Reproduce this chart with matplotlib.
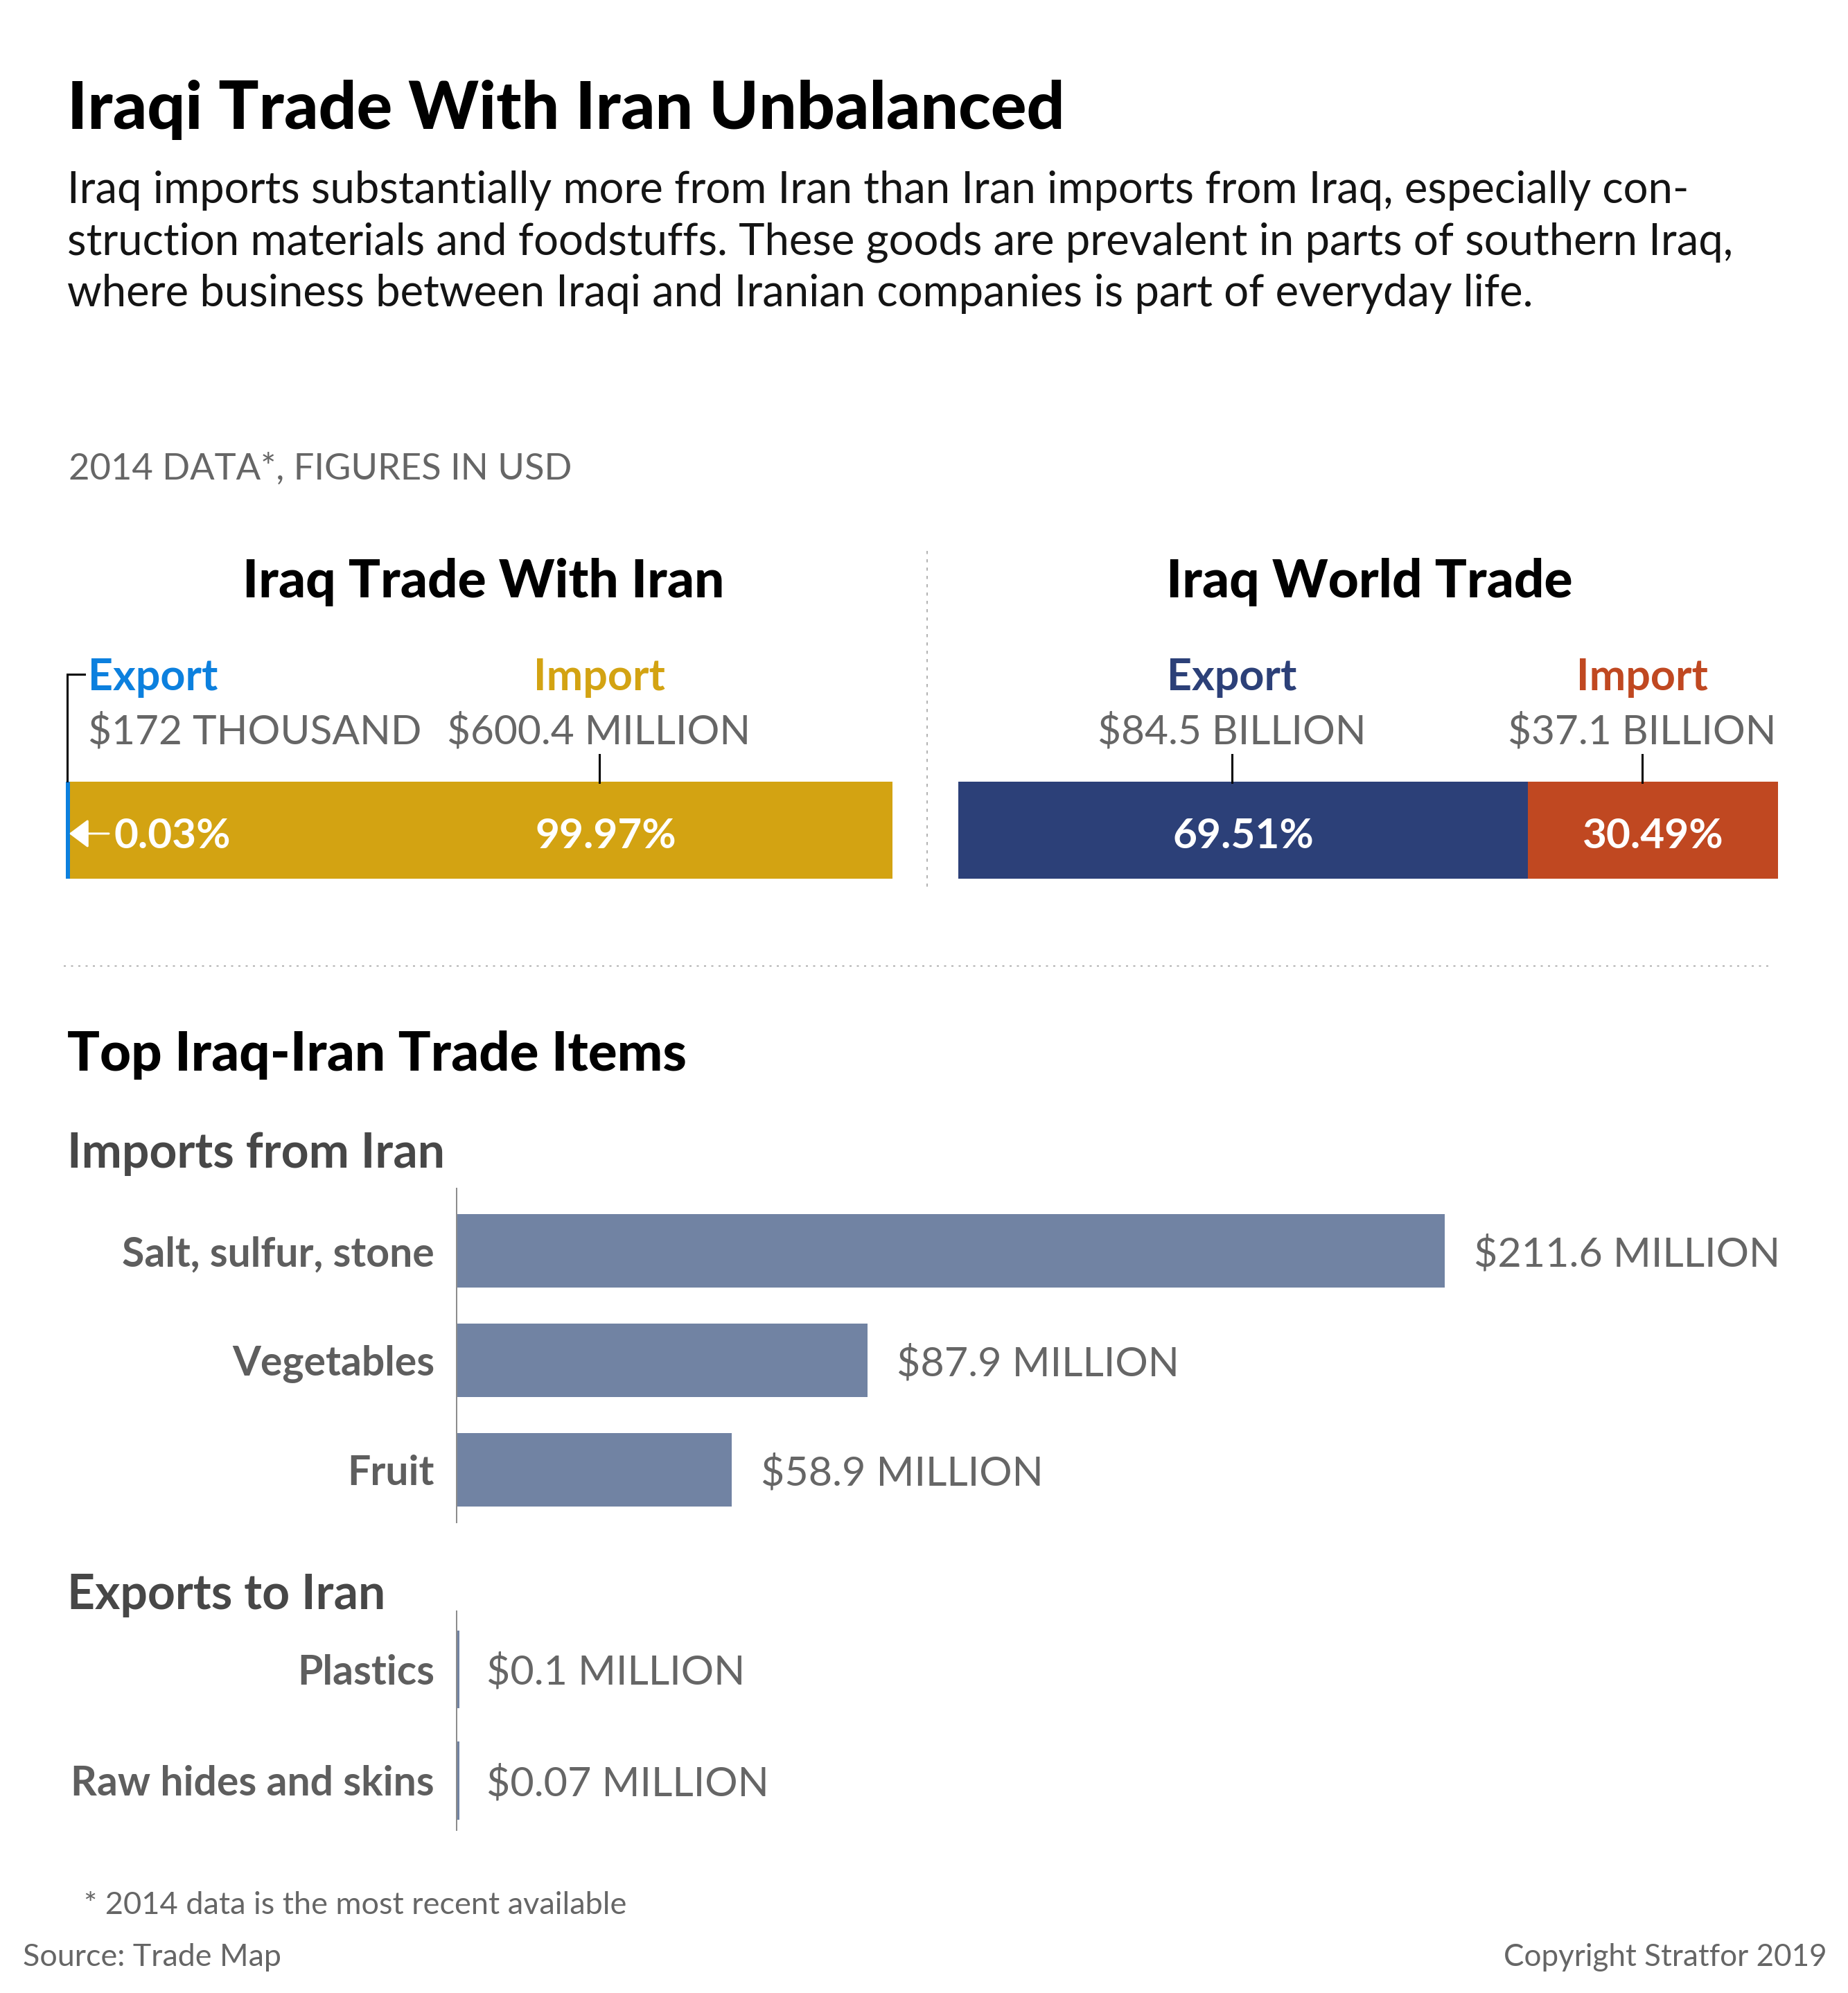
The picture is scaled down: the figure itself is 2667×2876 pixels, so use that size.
import matplotlib
matplotlib.use("Agg")
import matplotlib.pyplot as plt
from matplotlib.lines import Line2D
from matplotlib import transforms

# ---------------- data ----------------
title = "Iraqi Trade With Iran Unbalanced"
subtitle_lines = [
    "Iraq imports substantially more from Iran than Iran imports from Iraq, especially con-",
    "struction materials and foodstuffs. These goods are prevalent in parts of southern Iraq,",
    "where business between Iraqi and Iranian companies is part of everyday life.",
]
data_note = "2014 DATA*, FIGURES IN USD"

iran_panel_title = "Iraq Trade With Iran"
iran_parts = ["Export", "Import"]
iran_values_musd = [0.172, 600.4]
iran_value_labels = ["$172 THOUSAND", "$600.4 MILLION"]
iran_pct_labels = ["0.03%", "99.97%"]

world_panel_title = "Iraq World Trade"
world_parts = ["Export", "Import"]
world_values_busd = [84.5, 37.1]
world_value_labels = ["$84.5 BILLION", "$37.1 BILLION"]
world_pct_labels = ["69.51%", "30.49%"]

items_title = "Top Iraq-Iran Trade Items"
imports_title = "Imports from Iran"
import_items = ["Salt, sulfur, stone", "Vegetables", "Fruit"]
import_values = [211.6, 87.9, 58.9]
exports_title = "Exports to Iran"
export_items = ["Plastics", "Raw hides and skins"]
export_values = [0.1, 0.07]

footnote = "* 2014 data is the most recent available"
source = "Source: Trade Map"
copyright_txt = "Copyright Stratfor 2019"

# ---------------- style ----------------
FONT = "Lato"
BLUE = "#0C80DE"
GOLD = "#D3A312"
NAVY = "#2C4078"
ORANGE = "#C04821"
BAR = "#7183A3"
GRAY = "#666666"
LABEL_GRAY = "#5E5E5E"
HEAD_GRAY = "#474747"

W, H, DPI = 2667, 2876, 72
fig = plt.figure(figsize=((W + 0.2) / DPI, (H + 0.2) / DPI), dpi=DPI)
fig.patch.set_facecolor("white")
renderer = fig.canvas.get_renderer()


def esc(s):
    return s.replace("$", r"\$")


def fit(s, width, weight="normal"):
    t = fig.text(0, 0, esc(s), fontsize=100, fontweight=weight, family=FONT)
    w = t.get_window_extent(renderer=renderer).width
    t.remove()
    return 100.0 * width / w


def fxy(x, y):
    return x / W, 1 - y / H


def put(x, y, s, size, weight="normal", color="#000000", ha="left"):
    return fig.text(*fxy(x, y), esc(s), fontsize=size, fontweight=weight,
                    color=color, ha=ha, va="baseline", family=FONT)


def px_rect(x0, y0, x1, y1):
    return [x0 / W, 1 - y1 / H, (x1 - x0) / W, (y1 - y0) / H]


def fig_line(xs, ys, **kw):
    fig.add_artist(Line2D([x / W for x in xs], [1 - y / H for y in ys],
                          transform=fig.transFigure, **kw))


# ---------------- header ----------------
put(97, 186, title, fit(title, 1440, "black"), weight="black")
sub_size = fit(subtitle_lines[1], 2406)
for line, base in zip(subtitle_lines, [293, 367, 442]):
    put(97, base, line, sub_size, color="#141414")
put(99, 692, data_note, fit(data_note, 726), color=GRAY)

panel_size = fit(iran_panel_title, 697, "black")
put(698, 862, iran_panel_title, panel_size, weight="black", ha="center")
put(1976, 862, world_panel_title, panel_size, weight="black", ha="center")

# dotted dividers
fig_line([1338, 1338], [795, 1284], color="#9a9a9a", lw=1.5, linestyle=(0, (3, 5)))
fig_line([92, 2555], [1394, 1394], color="#9a9a9a", lw=1.5, linestyle=(0, (2, 5)))

hdr_size = fit("Import", 190, "bold")
val_size = fit(iran_value_labels[1], 438)
pct_size = fit("99.97%", 203, "bold")

# ---------------- Iraq trade with Iran bar ----------------
ax_i = fig.add_axes(px_rect(95, 1128, 1288, 1268))
iran_total = sum(iran_values_musd)
ax_i.barh(0, iran_values_musd[1], left=iran_values_musd[0], height=1, color=GOLD, lw=0)
ax_i.barh(0, iran_values_musd[0], left=0, height=1, color=BLUE, edgecolor=BLUE, lw=12, zorder=3)
ax_i.set_xlim(0, iran_total)
ax_i.set_ylim(-0.5, 0.5)
ax_i.set_axis_off()

bi = transforms.blended_transform_factory(ax_i.transAxes, fig.transFigure)
EXP_FRAC = 0.027
IMP_FRAC = 0.645
fig.text(EXP_FRAC, 1 - 996 / H, iran_parts[0], transform=bi, fontsize=hdr_size,
         fontweight="bold", color=BLUE, ha="left", va="baseline", family=FONT)
fig.text(EXP_FRAC, 1 - 1073 / H, esc(iran_value_labels[0]), transform=bi, fontsize=val_size,
         color=GRAY, ha="left", va="baseline", family=FONT)
fig.text(IMP_FRAC, 1 - 996 / H, iran_parts[1], transform=bi, fontsize=hdr_size,
         fontweight="bold", color=GOLD, ha="center", va="baseline", family=FONT)
fig.text(IMP_FRAC, 1 - 1073 / H, esc(iran_value_labels[1]), transform=bi, fontsize=val_size,
         color=GRAY, ha="center", va="baseline", family=FONT)
fig.add_artist(Line2D([IMP_FRAC, IMP_FRAC], [1 - 1089 / H, 1 - 1129 / H], transform=bi,
                      color="black", lw=3))
# export bracket
fig_line([97, 97, 122], [1127, 973, 973], color="black", lw=3, solid_joinstyle="miter")

fig.text(0.058, 1 - 1224 / H, iran_pct_labels[0], transform=bi, fontsize=pct_size,
         fontweight="bold", color="white", ha="left", va="baseline", family=FONT)
fig.text(IMP_FRAC + 0.008, 1 - 1224 / H, iran_pct_labels[1], transform=bi, fontsize=pct_size,
         fontweight="bold", color="white", ha="center", va="baseline", family=FONT)
ax_i.annotate("", xy=(0.004, 0.464), xytext=(0.052, 0.464), xycoords="axes fraction",
              textcoords="axes fraction",
              arrowprops=dict(arrowstyle="-|>,head_length=0.6,head_width=0.45",
                              color="white", lw=3, mutation_scale=40,
                              shrinkA=0, shrinkB=0))

# ---------------- Iraq world trade bar ----------------
ax_w = fig.add_axes(px_rect(1383, 1128, 2566, 1268))
world_total = sum(world_values_busd)
left = 0
centers = []
for v, c in zip(world_values_busd, [NAVY, ORANGE]):
    ax_w.barh(0, v, left=left, height=1, color=c, lw=0)
    centers.append(left + v / 2)
    left += v
ax_w.set_xlim(0, world_total)
ax_w.set_ylim(-0.5, 0.5)
ax_w.set_axis_off()

bw = transforms.blended_transform_factory(ax_w.transData, fig.transFigure)
bw_off = transforms.offset_copy(bw, fig=fig, x=-16, y=0, units="dots")
for cx, part, vlab, pct, col in zip(centers, world_parts, world_value_labels,
                                     world_pct_labels, [NAVY, ORANGE]):
    fig.text(cx, 1 - 996 / H, part, transform=bw_off, fontsize=hdr_size, fontweight="bold",
             color=col, ha="center", va="baseline", family=FONT)
    fig.text(cx, 1 - 1073 / H, esc(vlab), transform=bw_off, fontsize=val_size,
             color=GRAY, ha="center", va="baseline", family=FONT)
    fig.add_artist(Line2D([cx, cx], [1 - 1089 / H, 1 - 1129 / H], transform=bw_off,
                          color="black", lw=3))
    fig.text(cx, 1 - 1224 / H, pct, transform=bw, fontsize=pct_size, fontweight="bold",
             color="white", ha="center", va="baseline", family=FONT)

# ---------------- Top trade items ----------------
put(97, 1545, items_title, fit(items_title, 895, "black"), weight="black")
sec_size = fit(imports_title, 546, "bold")
put(97, 1685, imports_title, sec_size, weight="bold", color=HEAD_GRAY)
put(97, 2322, exports_title, sec_size, weight="bold", color=HEAD_GRAY)

cat_size = fit("Raw hides and skins", 525, "bold")
lab_size = fit("$87.9 MILLION", 408)
XMAX = 288


def item_axes(rect, items, values, ylim, min_lw):
    ax = fig.add_axes(rect)
    ys = list(range(len(items)))
    ax.barh(ys, values, height=0.67, color=BAR, edgecolor=BAR, lw=min_lw)
    ax.set_xlim(0, XMAX)
    ax.set_ylim(*ylim)
    ax.set_yticks(ys)
    ax.set_yticklabels(items, fontsize=cat_size, fontweight="bold", color=LABEL_GRAY,
                       family=FONT)
    ax.tick_params(axis="y", length=0, pad=32)
    ax.set_xticks([])
    for s in ["top", "right", "bottom"]:
        ax.spines[s].set_visible(False)
    ax.spines["left"].set_color("#8c8c8c")
    ax.spines["left"].set_linewidth(2)
    ax.patch.set_alpha(0)
    for y, v in zip(ys, values):
        ax.annotate(esc(f"${v:g} MILLION"), xy=(v, y), xytext=(42, 0),
                    textcoords="offset points", ha="left", va="center_baseline",
                    fontsize=lab_size, color=GRAY, family=FONT, annotation_clip=False)
    return ax


item_axes(px_rect(659, 1715, 2600, 2197), import_items, import_values, (2.48, -0.57), 0)
item_axes(px_rect(659, 2325, 2600, 2641), export_items, export_values, (1.45, -0.52), 5)

# ---------------- footer ----------------
put(121, 2762, footnote, fit(footnote, 783), color=GRAY)
put(33, 2837, source, fit(source, 374), color=GRAY)
put(2636, 2837, copyright_txt, fit(copyright_txt, 466), color=GRAY, ha="right")

fig.savefig("out.png", dpi=DPI, facecolor="white")
